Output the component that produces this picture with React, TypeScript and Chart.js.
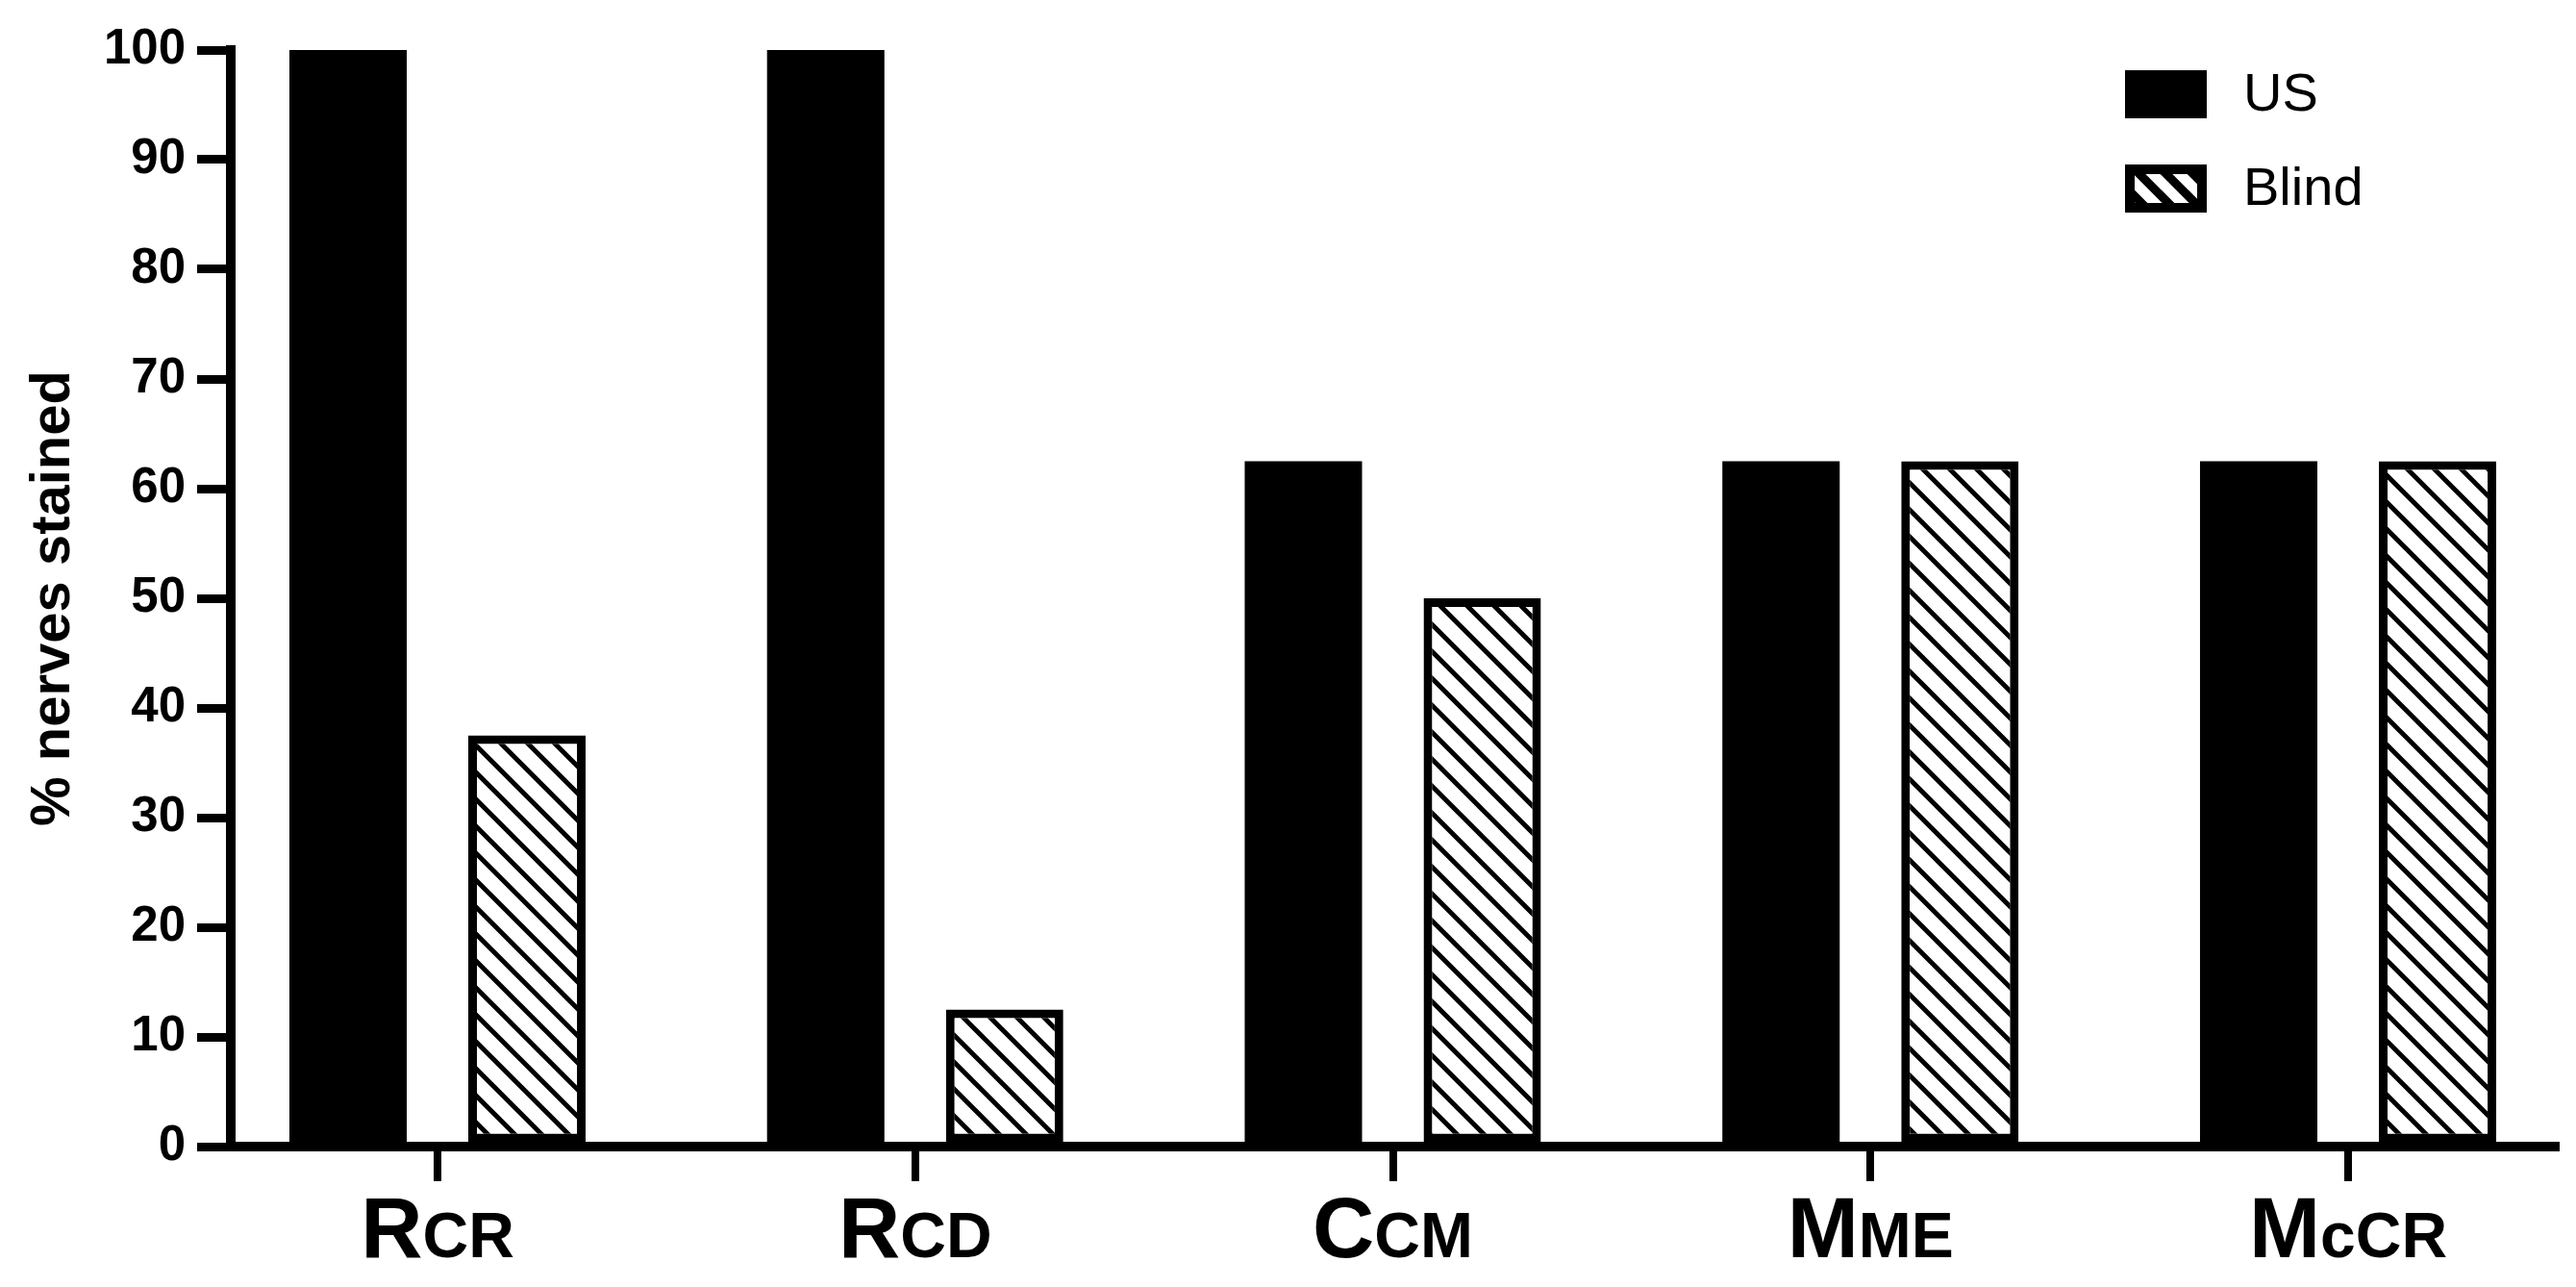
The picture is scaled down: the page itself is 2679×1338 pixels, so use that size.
import React, { useEffect, useRef } from "react";
import { Chart, registerables } from "chart.js";

Chart.register(...registerables);

// ---- Data ----
const categoryMain = ["R", "R", "C", "M", "M"];
const categorySmall = ["CR", "CD", "CM", "ME", "cCR"];
const categoryPositions = [1, 2, 3, 4, 5];
const usValues = [100, 100, 62.5, 62.5, 62.5];
const blindValues = [37.5, 12.5, 50, 62.5, 62.5];
const seriesLabels = ["US", "Blind"];
const yTickValues = [0, 10, 20, 30, 40, 50, 60, 70, 80, 90, 100];
const yAxisTitle = "% nerves stained";

const FONT = '"Liberation Sans", Arial, Helvetica, sans-serif';

function makeHatch(size: number, lw: number): HTMLCanvasElement {
  const c = document.createElement("canvas");
  c.width = size;
  c.height = size;
  const g = c.getContext("2d")!;
  g.fillStyle = "#ffffff";
  g.fillRect(0, 0, size, size);
  g.strokeStyle = "#000000";
  g.lineWidth = lw;
  g.beginPath();
  for (const k of [-1, 0, 1]) {
    g.moveTo(-3, k * size - 3);
    g.lineTo(size + 3, size + k * size + 3);
  }
  g.stroke();
  return c;
}

export default function App() {
  const canvasRef = useRef<HTMLCanvasElement | null>(null);

  useEffect(() => {
    const canvas = canvasRef.current;
    if (!canvas) return;
    const ctx0 = canvas.getContext("2d")!;
    const hatch = ctx0.createPattern(makeHatch(28, 5), "repeat")!;
    const legendHatch = ctx0.createPattern(makeHatch(28, 9), "repeat")!;

    const xLabelsPlugin = {
      id: "xLabels",
      afterDraw(chart: any) {
        const ctx = chart.ctx;
        const xs = chart.scales.x;
        ctx.save();
        ctx.fillStyle = "#000";
        ctx.textBaseline = "alphabetic";
        ctx.textAlign = "left";
        categoryMain.forEach((m, i) => {
          const cx = xs.getPixelForValue(categoryPositions[i]);
          ctx.font = `bold 89px ${FONT}`;
          const w1 = ctx.measureText(m).width;
          ctx.font = `bold 66px ${FONT}`;
          const w2 = ctx.measureText(categorySmall[i]).width;
          const x0 = cx - (w1 + w2) / 2;
          const base = chart.chartArea.bottom + 115;
          ctx.font = `bold 89px ${FONT}`;
          ctx.fillText(m, x0, base);
          ctx.font = `bold 66px ${FONT}`;
          ctx.fillText(categorySmall[i], x0 + w1, base);
        });
        ctx.restore();
      },
    };

    const legendPlugin = {
      id: "customLegend",
      afterDraw(chart: any) {
        const ctx = chart.ctx;
        ctx.save();
        const bx = 2202;
        const bw = 85;
        const bh = 50;
        const rows = [65, 163];
        // US
        ctx.fillStyle = "#000";
        ctx.fillRect(bx, rows[0], bw, bh);
        // Blind
        ctx.fillStyle = legendHatch;
        ctx.fillRect(bx, rows[1], bw, bh);
        ctx.strokeStyle = "#000";
        ctx.lineWidth = 10;
        ctx.strokeRect(bx + 5, rows[1] + 5, bw - 10, bh - 10);
        ctx.fillStyle = "#000";
        ctx.font = `56px ${FONT}`;
        ctx.textBaseline = "middle";
        ctx.textAlign = "left";
        chart.data.datasets.forEach((ds: any, i: number) => {
          ctx.fillText(ds.label, 2325, rows[i] + bh / 2 + 2);
        });
        ctx.restore();
      },
    };

    const chart = new Chart(canvas, {
      type: "bar",
      data: {
        datasets: [
          {
            label: seriesLabels[0],
            data: categoryPositions.map((x, i) => ({ x, y: usValues[i] })),
            backgroundColor: "#000000",
            borderColor: "#000000",
            borderWidth: 0,
            borderSkipped: false,
            categoryPercentage: 0.749,
            barPercentage: 0.656,
          } as any,
          {
            label: seriesLabels[1],
            data: categoryPositions.map((x, i) => ({ x, y: blindValues[i] })),
            backgroundColor: hatch,
            borderColor: "#000000",
            borderWidth: 9,
            borderSkipped: false,
            categoryPercentage: 0.749,
            barPercentage: 0.656,
          } as any,
        ],
      },
      options: {
        animation: false,
        responsive: true,
        maintainAspectRatio: false,
        layout: { padding: { top: 44, right: 13, left: 0, bottom: 0 } },
        plugins: {
          legend: { display: false },
          tooltip: { enabled: false },
        },
        scales: {
          x: {
            type: "linear",
            min: 0.5672,
            max: 5.4348,
            offset: false,
            grid: {
              offset: false,
              drawOnChartArea: false,
              drawTicks: true,
              tickLength: 36,
              lineWidth: 8,
              color: "#000000",
            },
            border: { display: true, width: 10, color: "#000000" },
            ticks: { callback: () => "" },
            afterBuildTicks: (s: any) => {
              s.ticks = categoryPositions.map((v) => ({ value: v }));
            },
            afterFit: (s: any) => {
              s.height = 138;
              s.paddingLeft = 0;
              s.paddingRight = 0;
            },
          } as any,
          y: {
            min: 0,
            max: 100,
            ticks: {
              stepSize: 10,
              color: "#000000",
              padding: 12,
              font: { family: FONT, size: 51, weight: "bold" },
            },
            afterBuildTicks: (s: any) => {
              s.ticks = yTickValues.map((v) => ({ value: v }));
            },
            grid: {
              offset: false,
              drawOnChartArea: false,
              drawTicks: true,
              tickLength: 35,
              lineWidth: 9,
              color: "#000000",
            },
            border: { display: true, width: 10, color: "#000000" },
            title: {
              display: true,
              text: yAxisTitle,
              color: "#000000",
              font: { family: FONT, size: 58, weight: "bold" },
              padding: { top: 13, bottom: 0 },
            },
            afterFit: (s: any) => {
              s.width = 232;
              s.paddingTop = 0;
              s.paddingBottom = 0;
            },
          } as any,
        },
      },
      plugins: [xLabelsPlugin, legendPlugin],
    });

    return () => {
      chart.destroy();
    };
  }, []);

  return (
    <div style={{ width: 2663, height: 1322, position: "relative" }}>
      <canvas ref={canvasRef} style={{ display: "block" }} />
    </div>
  );
}
